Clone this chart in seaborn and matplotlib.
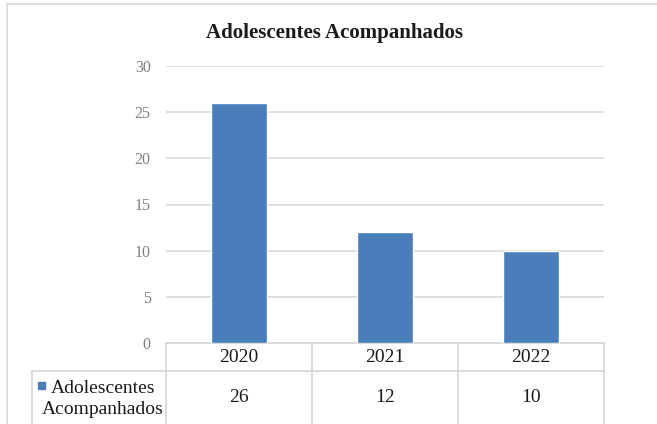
import matplotlib
matplotlib.use("Agg")
import matplotlib.pyplot as plt
import matplotlib.transforms as mtransforms
from matplotlib.patches import Rectangle
import pandas as pd
import seaborn as sns

# data
years = ["2020", "2021", "2022"]
values = [26, 12, 10]
series_name = "Adolescentes Acompanhados"
series_label = "Adolescentes\nAcompanhados"
yticks = [0, 5, 10, 15, 20, 25, 30]

bar_color = "#4a7ebb"
grid_color = "#d9d9d9"
line_color = "#d9d9d9"

sns.set_theme(style="white")
plt.rcParams["font.family"] = ["Liberation Serif", "DejaVu Serif"]

df = pd.DataFrame({"ano": years, "valor": values})

W, H = 657, 424
fig = plt.figure(figsize=(W / 100, H / 100), dpi=100)
ax = fig.add_axes([166 / W, 1 - 343 / H, (604 - 166) / W, (343 - 66) / H])

sns.barplot(data=df, x="ano", y="valor", color=bar_color, width=0.38,
            saturation=1, ax=ax, zorder=3)

ax.set_ylim(0, 30)
ax.set_xlim(-0.5, len(years) - 0.5)
ax.set_yticks(yticks)
ax.set_yticklabels([str(t) for t in yticks], color="#7f7f7f", fontsize=11.5)
ax.tick_params(axis="y", length=0, pad=11)
ax.set_xticks([])
ax.set_xlabel("")
ax.set_ylabel("")
ax.yaxis.grid(True, color=grid_color, linewidth=1.2, zorder=0)
ax.set_axisbelow(True)
for s in ax.spines.values():
    s.set_visible(False)

# chart title
fig.text(335 / W, 1 - 33 / H, series_name, ha="center", va="center",
         fontsize=15, fontweight="bold", color="#1a1a1a")

# data table below the axes (x in data units, y in pixels)
trans = mtransforms.blended_transform_factory(ax.transData, fig.transFigure)
def py(p):
    return 1 - p / H

bounds = [i - 0.5 for i in range(len(years) + 1)]
kw = dict(color=line_color, linewidth=1.3, transform=trans, clip_on=False)
# horizontal lines
ax.plot([bounds[0], bounds[-1]], [py(343), py(343)], **kw)
left_x = ax.transData.inverted().transform(
    fig.transFigure.transform((32 / W, 0)))[0]
ax.plot([left_x, bounds[-1]], [py(371), py(371)], **kw)
# vertical lines
for b in bounds:
    ax.plot([b, b], [py(343), py(430)], **kw)
ax.plot([left_x, left_x], [py(371), py(430)], **kw)

for i, (yr, v) in enumerate(zip(years, values)):
    ax.text(i, py(357), yr, transform=trans, ha="center", va="center",
            fontsize=14, color="#1a1a1a")
    ax.text(i, py(398), str(v), transform=trans, ha="center", va="center",
            fontsize=14, color="#1a1a1a")

# legend key + series label in the table
fig.patches.append(Rectangle((38 / W, py(389)), 7 / W, 7 / H,
                             transform=fig.transFigure, color=bar_color))
fig.text(103 / W, py(399), series_label, ha="center", va="center",
         fontsize=14, color="#1a1a1a", linespacing=1.35)

# outer chart border
fig.patches.append(Rectangle((7 / W, -0.1), 1.2, 1 - 4 / H + 0.1,
                             transform=fig.transFigure, fill=False,
                             edgecolor="#d9d9d9", linewidth=1.2))

fig.savefig("out.png", dpi=100)
